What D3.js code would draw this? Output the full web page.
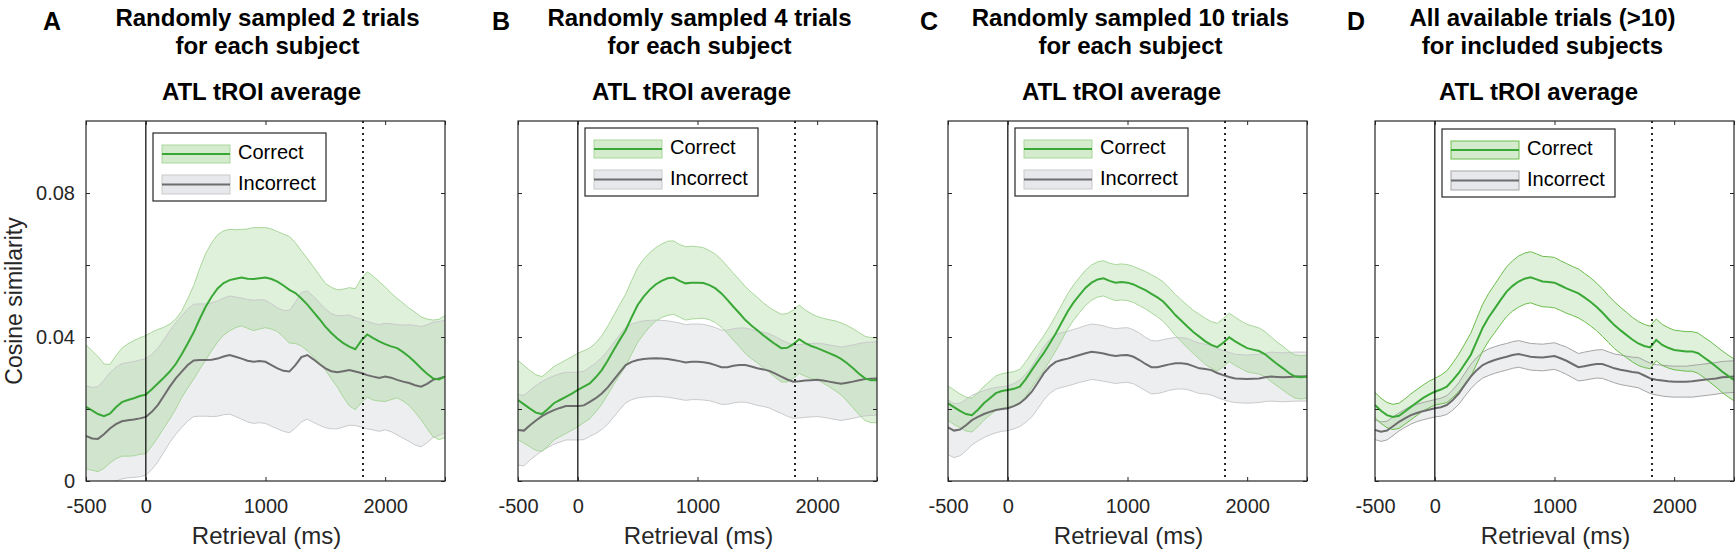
<!DOCTYPE html>
<html><head><meta charset="utf-8">
<script src="https://cdn.jsdelivr.net/npm/d3@7"></script>
<style>
html,body{margin:0;padding:0;background:#fff;}
svg{display:block;font-family:"Liberation Sans",Arial,Helvetica,sans-serif;}
</style></head><body>
<svg id="chart" width="1736" height="552"></svg>
<script>
// ---------------- DATA ----------------
const times = [
-500,-450,-400,-350,-300,-250,-200,-150,-100,-50,
0,50,100,150,200,250,300,350,400,450,
500,550,600,650,700,750,800,850,900,950,
1000,1050,1100,1150,1200,1250,1300,1350,1400,1450,
1500,1550,1600,1650,1700,1750,1800,1850,1900,1950,
2000,2050,2100,2150,2200,2250,2300,2350,2400,2450,
2500];

const panelLetters = ["A","B","C","D"];
const titleLine1 = ["Randomly sampled 2 trials","Randomly sampled 4 trials","Randomly sampled 10 trials","All available trials (>10)"];
const titleLine2 = ["for each subject","for each subject","for each subject","for included subjects"];
const subtitle = "ATL tROI average";
const seriesNames = ["Correct","Incorrect"];
const xTicks = [-500,0,1000,2000,2500];
const xTickLabels = ["-500","0","1000","2000",""];
const yTicks = [0,0.02,0.04,0.06,0.08];
const yTickLabels = ["0","","0.04","","0.08"];
const xLabel = "Retrieval (ms)";
const yLabel = "Cosine similarity";
const onsetTime = 0;
const markerTime = 1815;

// Panel A
const correctMeanA = [
.0206,.0196,.0186,.0180,.0187,.0205,.0219,.0225,.0230,.0236,
.0240,.0255,.0271,.0287,.0304,.0325,.0352,.0382,.0413,.0450,
.0484,.0512,.0535,.0550,.0558,.0562,.0565,.0562,.0561,.0563,
.0565,.0561,.0554,.0543,.0531,.0522,.0507,.0490,.0470,.0450,
.0429,.0411,.0396,.0383,.0373,.0366,.0390,.0407,.0397,.0388,
.0380,.0374,.0369,.0358,.0345,.0330,.0313,.0298,.0285,.0282,
.0290];
const correctSemA = [
.0172,.0166,.0160,.0145,.0137,.0143,.0150,.0156,.0160,.0162,
.0164,.0158,.0150,.0140,.0132,.0125,.0120,.0124,.0130,.0140,
.0148,.0150,.0149,.0145,.0141,.0136,.0134,.0138,.0143,.0141,
.0139,.0139,.0139,.0143,.0148,.0140,.0132,.0128,.0125,.0122,
.0120,.0127,.0135,.0150,.0164,.0168,.0172,.0174,.0172,.0166,
.0159,.0148,.0138,.0136,.0135,.0139,.0143,.0152,.0162,.0167,
.0170];
const incorrectMeanA = [
.0125,.0118,.0117,.0130,.0146,.0158,.0166,.0169,.0171,.0174,
.0178,.0192,.0211,.0236,.0262,.0285,.0304,.0322,.0335,.0336,
.0336,.0337,.0340,.0346,.0350,.0345,.0340,.0334,.0331,.0333,
.0331,.0322,.0313,.0306,.0304,.0322,.0344,.0350,.0338,.0325,
.0313,.0305,.0302,.0305,.0308,.0304,.0300,.0294,.0290,.0286,
.0290,.0287,.0281,.0276,.0272,.0266,.0262,.0270,.0281,.0285,
.0290];
const incorrectSemA = [
.0140,.0142,.0145,.0150,.0155,.0158,.0160,.0160,.0161,.0162,
.0162,.0160,.0158,.0156,.0155,.0155,.0155,.0156,.0156,.0156,
.0156,.0158,.0160,.0162,.0164,.0166,.0168,.0170,.0171,.0171,
.0171,.0170,.0168,.0168,.0170,.0175,.0180,.0178,.0175,.0170,
.0165,.0160,.0157,.0155,.0153,.0150,.0150,.0149,.0148,.0148,
.0148,.0150,.0153,.0157,.0162,.0166,.0167,.0164,.0160,.0158,
.0157];

// Panel B
const correctMeanB = [
.0225,.0213,.0201,.0190,.0186,.0200,.0216,.0225,.0234,.0243,
.0253,.0262,.0271,.0288,.0308,.0335,.0364,.0392,.0419,.0455,
.0489,.0512,.0531,.0546,.0556,.0563,.0565,.0556,.0549,.0551,
.0551,.0550,.0544,.0535,.0521,.0503,.0484,.0466,.0447,.0432,
.0419,.0405,.0392,.0380,.0369,.0370,.0380,.0394,.0383,.0375,
.0369,.0362,.0355,.0348,.0339,.0327,.0313,.0298,.0285,.0280,
.0280];
const correctSemB = [
.0110,.0108,.0106,.0105,.0104,.0103,.0102,.0102,.0102,.0102,
.0102,.0100,.0098,.0096,.0095,.0095,.0096,.0098,.0100,.0102,
.0104,.0104,.0103,.0102,.0102,.0103,.0102,.0101,.0102,.0101,
.0100,.0098,.0096,.0095,.0094,.0093,.0093,.0093,.0093,.0092,
.0091,.0090,.0090,.0092,.0094,.0095,.0095,.0095,.0092,.0090,
.0088,.0090,.0093,.0097,.0100,.0105,.0110,.0114,.0117,.0118,
.0118];
const incorrectMeanB = [
.0142,.0140,.0155,.0168,.0180,.0189,.0197,.0203,.0208,.0208,
.0208,.0210,.0220,.0230,.0243,.0260,.0281,.0302,.0322,.0331,
.0336,.0339,.0340,.0341,.0340,.0339,.0336,.0333,.0329,.0331,
.0331,.0330,.0327,.0322,.0316,.0316,.0320,.0322,.0322,.0318,
.0313,.0310,.0306,.0298,.0290,.0282,.0276,.0277,.0279,.0280,
.0281,.0279,.0276,.0273,.0270,.0273,.0276,.0280,.0283,.0284,
.0285];
const incorrectSemB = [
.0098,.0098,.0097,.0097,.0096,.0096,.0095,.0095,.0094,.0094,
.0094,.0095,.0096,.0098,.0100,.0102,.0103,.0104,.0105,.0105,
.0105,.0106,.0106,.0106,.0106,.0106,.0106,.0106,.0105,.0105,
.0105,.0105,.0104,.0104,.0103,.0103,.0103,.0103,.0103,.0103,
.0103,.0103,.0103,.0103,.0102,.0102,.0102,.0102,.0102,.0102,
.0102,.0102,.0102,.0102,.0102,.0102,.0102,.0102,.0102,.0102,
.0102];

// Panel C
const correctMeanC = [
.0216,.0205,.0195,.0186,.0183,.0198,.0216,.0230,.0244,.0250,
.0253,.0256,.0262,.0283,.0308,.0332,.0355,.0382,.0410,.0440,
.0471,.0496,.0517,.0537,.0551,.0560,.0563,.0556,.0551,.0553,
.0551,.0546,.0538,.0530,.0520,.0510,.0498,.0480,.0461,.0445,
.0429,.0414,.0401,.0388,.0378,.0372,.0384,.0399,.0388,.0378,
.0369,.0365,.0361,.0352,.0338,.0325,.0313,.0300,.0290,.0288,
.0290];
const correctSemC = [
.0048,.0048,.0047,.0047,.0047,.0047,.0047,.0047,.0048,.0048,
.0048,.0048,.0048,.0048,.0048,.0048,.0048,.0048,.0049,.0049,
.0049,.0049,.0049,.0049,.0049,.0049,.0049,.0049,.0050,.0050,
.0050,.0050,.0051,.0052,.0053,.0054,.0055,.0056,.0057,.0058,
.0059,.0060,.0062,.0064,.0065,.0066,.0067,.0067,.0067,.0066,
.0066,.0065,.0064,.0063,.0062,.0061,.0061,.0060,.0060,.0060,
.0060];
const incorrectMeanC = [
.0149,.0140,.0143,.0155,.0169,.0178,.0186,.0192,.0197,.0200,
.0202,.0208,.0216,.0230,.0248,.0273,.0299,.0318,.0331,.0336,
.0340,.0345,.0350,.0355,.0359,.0357,.0354,.0350,.0347,.0349,
.0350,.0345,.0336,.0325,.0316,.0316,.0320,.0324,.0327,.0327,
.0325,.0319,.0313,.0311,.0308,.0300,.0294,.0289,.0285,.0284,
.0283,.0284,.0285,.0288,.0290,.0289,.0288,.0289,.0290,.0290,
.0290];
const incorrectSemC = [
.0076,.0075,.0073,.0071,.0069,.0067,.0065,.0064,.0063,.0062,
.0062,.0063,.0065,.0067,.0070,.0072,.0074,.0075,.0076,.0076,
.0076,.0076,.0076,.0077,.0077,.0077,.0077,.0076,.0076,.0076,
.0076,.0075,.0075,.0074,.0074,.0073,.0073,.0072,.0072,.0071,
.0071,.0070,.0070,.0069,.0069,.0068,.0068,.0068,.0067,.0067,
.0067,.0067,.0067,.0067,.0068,.0068,.0068,.0068,.0068,.0068,
.0068];

// Panel D
const correctMeanD = [
.0211,.0195,.0183,.0178,.0181,.0193,.0206,.0218,.0230,.0240,
.0248,.0254,.0262,.0280,.0300,.0325,.0350,.0388,.0426,.0455,
.0479,.0503,.0526,.0542,.0554,.0562,.0566,.0560,.0554,.0553,
.0551,.0543,.0535,.0528,.0521,.0510,.0498,.0484,.0468,.0450,
.0433,.0419,.0406,.0393,.0382,.0375,.0371,.0392,.0378,.0370,
.0364,.0362,.0360,.0360,.0355,.0343,.0331,.0318,.0304,.0292,
.0281];
const correctSemD = [
.0035,.0035,.0035,.0035,.0035,.0035,.0036,.0036,.0036,.0037,
.0037,.0040,.0044,.0048,.0052,.0056,.0060,.0063,.0065,.0066,
.0067,.0068,.0069,.0070,.0071,.0071,.0071,.0071,.0070,.0070,
.0070,.0069,.0069,.0068,.0068,.0067,.0067,.0066,.0066,.0065,
.0065,.0064,.0063,.0062,.0061,.0060,.0059,.0058,.0057,.0056,
.0055,.0055,.0055,.0055,.0056,.0056,.0057,.0057,.0058,.0058,
.0058];
const incorrectMeanD = [
.0142,.0137,.0140,.0152,.0164,.0174,.0183,.0189,.0194,.0198,
.0202,.0205,.0211,.0225,.0243,.0267,.0290,.0308,.0322,.0330,
.0336,.0341,.0345,.0350,.0353,.0349,.0345,.0344,.0343,.0345,
.0347,.0341,.0334,.0325,.0316,.0319,.0322,.0325,.0325,.0319,
.0313,.0309,.0306,.0303,.0301,.0293,.0285,.0281,.0279,.0277,
.0276,.0276,.0276,.0277,.0279,.0281,.0283,.0285,.0288,.0289,
.0290];
const incorrectSemD = [
.0027,.0027,.0026,.0026,.0025,.0025,.0025,.0024,.0024,.0024,
.0024,.0025,.0026,.0028,.0030,.0032,.0034,.0035,.0036,.0037,
.0037,.0037,.0037,.0037,.0037,.0037,.0037,.0037,.0037,.0037,
.0037,.0037,.0038,.0038,.0038,.0039,.0039,.0039,.0040,.0040,
.0040,.0041,.0041,.0041,.0042,.0042,.0042,.0042,.0043,.0043,
.0043,.0043,.0043,.0044,.0044,.0044,.0044,.0044,.0044,.0044,
.0044];

// ---------------- LAYOUT / STYLE ----------------
const panels = [
  {cm: correctMeanA, cs: correctSemA, im: incorrectMeanA, is: incorrectSemA},
  {cm: correctMeanB, cs: correctSemB, im: incorrectMeanB, is: incorrectSemB},
  {cm: correctMeanC, cs: correctSemC, im: incorrectMeanC, is: incorrectSemC},
  {cm: correctMeanD, cs: correctSemD, im: incorrectMeanD, is: incorrectSemD}
];
const panelLeft = [86, 518, 948, 1375];
const plotW = 359, plotTop = 121, plotBottom = 481;
const titleDx = [2, 2, 3, -12];
const subDx = [-4, -6, -6, -16];
const letterX = [43, 492, 920, 1347];
const legendTop = [133, 128, 128, 129];

const greenLine = "#3aa836", grayLine = "#6d6d6d";
const greenFill = "rgb(120,195,100)", grayFill = "rgb(180,184,192)";
const fillOpacity = 0.24;
const greenEdge = ["#a9d79b","#a9d79b","#a9d79b","#6cbd4c"];
const grayEdge  = ["#c9cacc","#c9cacc","#c9cacc","#a5a5a5"];
const axisColor = "#262626";

const svg = d3.select("#chart");
svg.append("rect").attr("width",1736).attr("height",552).attr("fill","#fff");

panels.forEach((p, i) => {
  const L = panelLeft[i];
  const x = d3.scaleLinear().domain([-500, 2500]).range([L, L + plotW]);
  const y = d3.scaleLinear().domain([0, 0.1]).range([plotBottom, plotTop]);
  const g = svg.append("g");
  const cx = L + plotW / 2;

  // titles
  g.append("text").attr("x", letterX[i]).attr("y", 30)
    .attr("font-size", 25).attr("font-weight", "bold").attr("fill", "#000").text(panelLetters[i]);
  g.append("text").attr("x", cx + titleDx[i]).attr("y", 26).attr("text-anchor", "middle")
    .attr("font-size", 24).attr("font-weight", "bold").attr("fill", "#000").text(titleLine1[i]);
  g.append("text").attr("x", cx + titleDx[i]).attr("y", 54).attr("text-anchor", "middle")
    .attr("font-size", 24).attr("font-weight", "bold").attr("fill", "#000").text(titleLine2[i]);
  g.append("text").attr("x", cx + subDx[i]).attr("y", 100).attr("text-anchor", "middle")
    .attr("font-size", 24).attr("font-weight", "bold").attr("fill", "#000").text(subtitle);

  // clip
  const clipId = "clip" + i;
  svg.append("clipPath").attr("id", clipId).append("rect")
    .attr("x", L).attr("y", plotTop).attr("width", plotW).attr("height", plotBottom - plotTop);
  const plot = g.append("g").attr("clip-path", `url(#${clipId})`);

  const band = (m, s) => d3.area()
    .x((d, j) => x(times[j]))
    .y0((d, j) => y(m[j] - s[j]))
    .y1((d, j) => y(m[j] + s[j]))(times);
  const edge = (m, s, sign) => d3.line()
    .x((d, j) => x(times[j]))
    .y((d, j) => y(m[j] + sign * s[j]))(times);
  const mline = (m) => d3.line().x((d, j) => x(times[j])).y((d, j) => y(m[j]))(times);

  plot.append("path").attr("d", band(p.im, p.is)).attr("fill", grayFill).attr("fill-opacity", fillOpacity);
  plot.append("path").attr("d", band(p.cm, p.cs)).attr("fill", greenFill).attr("fill-opacity", fillOpacity);
  [1, -1].forEach(sg => {
    plot.append("path").attr("d", edge(p.im, p.is, sg)).attr("fill", "none").attr("stroke", grayEdge[i]).attr("stroke-width", 1);
    plot.append("path").attr("d", edge(p.cm, p.cs, sg)).attr("fill", "none").attr("stroke", greenEdge[i]).attr("stroke-width", 1);
  });
  plot.append("path").attr("d", mline(p.im)).attr("fill", "none").attr("stroke", grayLine).attr("stroke-width", 2);
  plot.append("path").attr("d", mline(p.cm)).attr("fill", "none").attr("stroke", greenLine).attr("stroke-width", 2);

  // reference lines
  g.append("line").attr("x1", x(onsetTime)).attr("x2", x(onsetTime)).attr("y1", plotTop).attr("y2", plotBottom)
    .attr("stroke", "#000").attr("stroke-width", 1.2);
  g.append("line").attr("x1", x(markerTime)).attr("x2", x(markerTime)).attr("y1", plotTop).attr("y2", plotBottom)
    .attr("stroke", "#111").attr("stroke-width", 1.8).attr("stroke-dasharray", "2,4");

  // axes
  const fmtX = d => xTickLabels[xTicks.indexOf(d)];
  const fmtY = d => (i === 0 ? yTickLabels[yTicks.indexOf(d)] : "");
  const ax = g.append("g").attr("transform", `translate(0,${plotBottom})`)
    .call(d3.axisBottom(x).tickValues(xTicks).tickFormat(fmtX).tickSizeInner(-4).tickSizeOuter(0).tickPadding(18));
  const axT = g.append("g").attr("transform", `translate(0,${plotTop})`)
    .call(d3.axisTop(x).tickValues(xTicks).tickFormat("").tickSizeInner(-4).tickSizeOuter(0));
  const ayL = g.append("g").attr("transform", `translate(${L},0)`)
    .call(d3.axisLeft(y).tickValues(yTicks).tickFormat(fmtY).tickSizeInner(-4).tickSizeOuter(0).tickPadding(11));
  const ayR = g.append("g").attr("transform", `translate(${L + plotW},0)`)
    .call(d3.axisRight(y).tickValues(yTicks).tickFormat("").tickSizeInner(-4).tickSizeOuter(0));
  [ax, axT, ayL, ayR].forEach(a => {
    a.select(".domain").remove();
    a.selectAll("line").attr("stroke", axisColor);
    a.selectAll("text").attr("font-size", 20).attr("fill", axisColor)
      .attr("font-family", "'Liberation Sans',Arial,Helvetica,sans-serif");
  });
  g.append("rect").attr("x", L).attr("y", plotTop).attr("width", plotW).attr("height", plotBottom - plotTop)
    .attr("fill", "none").attr("stroke", axisColor).attr("stroke-width", 1.2);

  // axis labels
  g.append("text").attr("x", cx + 1).attr("y", 544).attr("text-anchor", "middle")
    .attr("font-size", 24).attr("fill", axisColor).text(xLabel);
  if (i === 0) {
    g.append("text").attr("transform", `translate(22,${(plotTop + plotBottom) / 2}) rotate(-90)`)
      .attr("text-anchor", "middle").attr("font-size", 23).attr("fill", axisColor).text(yLabel);
  }

  // legend
  const lx = L + 67, ly = legendTop[i];
  const lg = g.append("g");
  lg.append("rect").attr("x", lx).attr("y", ly).attr("width", 173).attr("height", 68)
    .attr("fill", "#fff").attr("stroke", axisColor).attr("stroke-width", 1.2);
  const entries = [
    {name: seriesNames[0], fill: greenFill, edge: greenEdge[i], line: greenLine, y0: ly + 12, h: 18, tb: ly + 26},
    {name: seriesNames[1], fill: grayFill, edge: grayEdge[i], line: grayLine, y0: ly + 42, h: 19, tb: ly + 57}
  ];
  entries.forEach(e => {
    lg.append("rect").attr("x", lx + 9).attr("y", e.y0).attr("width", 68).attr("height", e.h)
      .attr("fill", e.fill).attr("fill-opacity", 0.32).attr("stroke", e.edge).attr("stroke-width", 1);
    lg.append("line").attr("x1", lx + 9).attr("x2", lx + 77).attr("y1", e.y0 + e.h / 2).attr("y2", e.y0 + e.h / 2)
      .attr("stroke", e.line).attr("stroke-width", 2);
    lg.append("text").attr("x", lx + 85).attr("y", e.tb).attr("font-size", 20).attr("fill", "#000").text(e.name);
  });
});
</script>
</body></html>
